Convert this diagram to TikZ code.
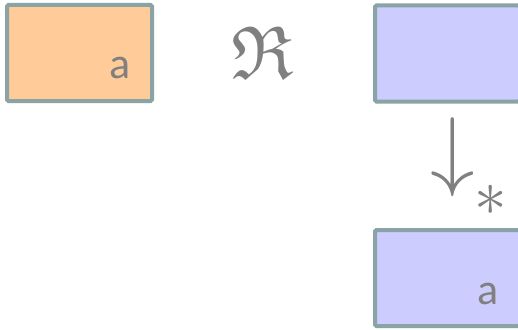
\documentclass[tikz,border=0pt]{standalone}
\usepackage{amsmath,amssymb}
\usepackage{graphicx}
\usepackage{fontspec}
\setsansfont{Carlito}
\definecolor{edgegrey}{RGB}{138,163,165}
\definecolor{txtgrey}{RGB}{128,128,128}
\definecolor{lhsfill}{RGB}{255,204,153}
\definecolor{rhsfill}{RGB}{204,204,255}
\tikzset{
  termbox/.style={draw=edgegrey,line width=4pt,rounded corners=1.5pt,minimum width=145pt,minimum height=96pt,inner sep=0pt},
  leaf/.style={text=txtgrey,font=\sffamily\fontsize{44}{44}\selectfont,inner sep=0pt},
  rel/.style={text=txtgrey,inner sep=0pt}
}

\begin{document}
\begin{tikzpicture}[x=1pt,y=-1pt]
  \useasboundingbox (0,0) rectangle (518,329);
  \clip (0,0) rectangle (518,329);
  % redex and its reduct
  \node[termbox,fill=lhsfill] (lhs) at (79.5,53) {};
  \node[leaf] (lhsa) at (120,68) {a};
  \node[rel,font=\fontsize{75}{75}\selectfont] (redex) at (263,53) {$\mathfrak{R}$};
  \node[termbox,fill=rhsfill] (top) at (447.5,53.5) {};
  \node[rel] (step) at (453,157) {\scalebox{8.9}{$\downarrow$}};
  \node[rel] (star) at (491,200) {\scalebox{6.5}{$*$}};
  \node[termbox,fill=rhsfill] (bot) at (447.5,278) {};
  \node[leaf] (bota) at (488,294) {a};
\end{tikzpicture}
\end{document}
